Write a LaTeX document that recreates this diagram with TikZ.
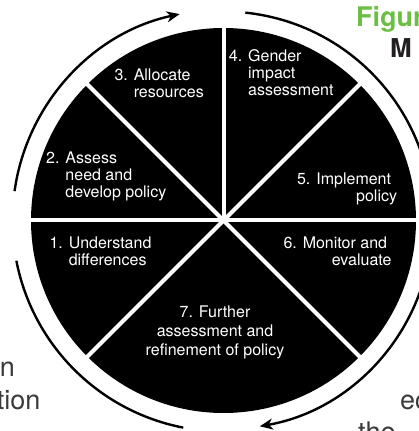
\documentclass[tikz,border=0pt]{standalone}
\usepackage{fontspec}
\setmainfont{TeX Gyre Heros}
\usetikzlibrary{arrows.meta,calc}
\definecolor{figgreen}{HTML}{6CBF45}
\definecolor{pagegray}{HTML}{3A3A3A}
\definecolor{titledark}{HTML}{231F20}
\begin{document}
\begin{tikzpicture}[x=1pt,y=1pt,
  lbl/.style={text=white, inner sep=0, font=\fontsize{16}{17}\selectfont},
  divider/.style={white, line width=4pt, line cap=round},
  cyclearc/.style={line width=2.4pt, black},
  cyclearrow/.style={cyclearc, -{Stealth[length=13pt,width=11pt,inset=4pt]}},
  pagetext/.style={inner sep=0, text=pagegray, font=\fontsize{27}{32}\selectfont}]
\useasboundingbox (0,0) rectangle (418,431);
\coordinate (C) at (223.5,210.5);
\node[circle, fill=black, inner sep=0, outer sep=0, minimum size=385pt] (disk) at (C) {};
\foreach \a in {0,45,90,135,180,225,315} \draw[divider] (disk.center) -- (disk.\a);
% cycle arrows
\draw[cyclearrow] ($(C)+(172:211)$) arc[start angle=172, end angle=102, radius=211];
\draw[cyclearrow] ($(C)+(84:209)$) arc[start angle=84, end angle=-80, radius=209];
\draw[cyclearc] ($(C)+(191:211)$) arc[start angle=191, end angle=259, radius=211];
% sector labels
\node[lbl, anchor=base west] (s1) at (49.3,182.7) {\begin{tabular}[t]{@{}l@{}}1. Understand\\\hphantom{1. }differences\end{tabular}};
\node[lbl, anchor=base west] (s2) at (46,267.7) {\begin{tabular}[t]{@{}l@{}}2. Assess\\\hphantom{2. }need and\\\hphantom{2. }develop policy\end{tabular}};
\node[lbl, anchor=base west] (s3) at (114.3,350.3) {\begin{tabular}[t]{@{}l@{}}3. Allocate\\\hphantom{3. }resources\end{tabular}};
\node[lbl, anchor=base west] (s4) at (228.7,369.3) {\begin{tabular}[t]{@{}l@{}}4. Gender\\\hphantom{4. }impact\\\hphantom{4. }assessment\end{tabular}};
\node[lbl, anchor=base east] (s5) at (397.3,246.7) {\begin{tabular}[t]{@{}r@{}}5. Implement\hspace*{6pt}\\policy\end{tabular}};
\node[lbl, anchor=base east] (s6) at (391.7,182.7) {\begin{tabular}[t]{@{}r@{}}6. Monitor and\hspace*{4.4pt}\\evaluate\end{tabular}};
\node[lbl, anchor=base, font=\fontsize{16}{19}\selectfont] (s7) at (215,113.7) {\begin{tabular}[t]{@{}c@{}}7. Further\\assessment and\\refinement of policy\end{tabular}};
% surrounding page text
\node[anchor=base west, inner sep=0, text=figgreen, font=\fontsize{27}{32}\selectfont\bfseries] (fig) at (356,404.3) {Figur};
\node[anchor=base west, inner sep=0, text=titledark, font=\fontsize{26}{30}\selectfont\bfseries] (ttl) at (390,373) {M};
\node[pagetext, anchor=base east] (t1) at (15,54) {en};
\node[pagetext, anchor=base east] (t2) at (40.7,21.7) {tion};
\node[pagetext, anchor=base west] (t3) at (400,21.7) {ec};
\node[pagetext, anchor=base west] (t4) at (358,-10) {the};
\end{tikzpicture}
\end{document}
